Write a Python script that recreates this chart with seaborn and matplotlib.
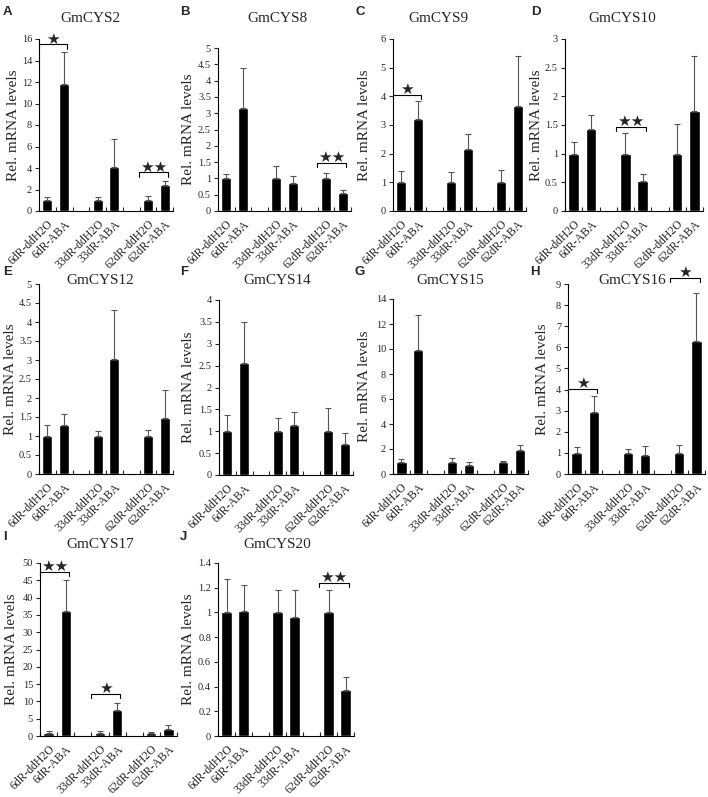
import matplotlib.pyplot as plt
import numpy as np
import pandas as pd
import seaborn as sns

sns.set_style('ticks')
plt.rcParams['font.family'] = ['Liberation Serif', 'DejaVu Sans']

# sample order, with two empty slots between the time points
samples = ['6dR-ddH2O', '6dR-ABA', 'gap1', '33dR-ddH2O', '33dR-ABA',
           'gap2', '62dR-ddH2O', '62dR-ABA']
labeled = ['6dR-ddH2O', '6dR-ABA', '33dR-ddH2O', '33dR-ABA',
           '62dR-ddH2O', '62dR-ABA']

genes = ['GmCYS2', 'GmCYS8', 'GmCYS9', 'GmCYS10', 'GmCYS12',
         'GmCYS14', 'GmCYS15', 'GmCYS16', 'GmCYS17', 'GmCYS20']
letters = ['A', 'B', 'C', 'D', 'E', 'F', 'G', 'H', 'I', 'J']

# mean expression per gene (order = labeled)
means = [
    [1.0, 11.8, 1.0, 4.1, 1.0, 2.4],
    [1.0, 3.15, 1.0, 0.85, 1.0, 0.55],
    [1.0, 3.2, 1.0, 2.15, 1.0, 3.65],
    [1.0, 1.43, 1.0, 0.53, 1.0, 1.75],
    [1.0, 1.28, 1.0, 3.02, 1.0, 1.47],
    [1.0, 2.57, 1.0, 1.15, 1.0, 0.71],
    [1.0, 9.95, 1.0, 0.75, 1.0, 1.9],
    [1.0, 2.93, 1.0, 0.9, 1.0, 6.3],
    [1.0, 36.0, 1.0, 7.5, 1.0, 2.1],
    [1.0, 1.015, 1.0, 0.965, 1.0, 0.37],
]
# upper error (SD)
errors = [
    [0.3, 3.0, 0.3, 2.6, 0.4, 0.35],
    [0.13, 1.25, 0.38, 0.22, 0.18, 0.1],
    [0.4, 0.65, 0.35, 0.55, 0.42, 1.75],
    [0.2, 0.24, 0.36, 0.12, 0.52, 0.95],
    [0.28, 0.3, 0.13, 1.3, 0.15, 0.74],
    [0.38, 0.92, 0.3, 0.29, 0.54, 0.25],
    [0.22, 2.75, 0.3, 0.2, 0.08, 0.45],
    [0.28, 0.75, 0.18, 0.42, 0.36, 2.27],
    [0.4, 9.2, 0.4, 2.1, 0.2, 1.2],
    [0.27, 0.205, 0.185, 0.215, 0.185, 0.11],
]
ymax = [16, 5, 6, 3, 5, 4, 14, 9, 50, 1.4]
ystep = [2, 0.5, 1, 0.5, 0.5, 0.5, 2, 1, 5, 0.2]

# significance: (gene index, first sample of pair, bracket level, stars)
sig_gene = [0, 0, 1, 2, 3, 7, 7, 8, 8, 9]
sig_pair = ['6dR-ddH2O', '62dR-ddH2O', '62dR-ddH2O', '6dR-ddH2O', '33dR-ddH2O',
            '6dR-ddH2O', '62dR-ddH2O', '6dR-ddH2O', '33dR-ddH2O', '62dR-ddH2O']
sig_level = [15.5, 3.6, 1.47, 4.05, 1.47, 4.05, 9.3, 47.5, 12.2, 1.24]
sig_stars = [1, 2, 2, 1, 2, 1, 1, 2, 1, 2]

# axes boxes in pixels: left, right, top, bottom
W, H = 708, 797
boxes = [
    (39, 173, 39, 211), (218, 351, 48, 211), (393, 526, 39, 211), (565, 703, 39, 211),
    (39, 173, 284, 474), (219, 353, 300, 475), (393, 528, 299, 474), (568, 705, 284, 474),
    (40, 177, 563, 736), (218, 354, 563, 736),
]
ylabel_x = [14, 189, 365, 537, 11, 189, 365, 543, 12, 188]
title_xy = [(90, 19), (277, 19), (438, 19), (622, 19),
            (100, 280), (277, 280), (450, 280), (632, 280),
            (100, 545), (277, 545)]
letter_xy = [(3, 12), (180, 12), (356, 12), (531, 12),
             (3, 272), (180, 272), (355, 272), (530, 272),
             (3, 537), (180, 537)]

fig = plt.figure(figsize=(W / 100, H / 100), dpi=100)

for i, gene in enumerate(genes):
    l, r, t, b = boxes[i]
    ax = fig.add_axes([l / W, 1 - b / H, (r - l) / W, (b - t) / H])
    df = pd.DataFrame({'sample': labeled, 'level': means[i]})
    sns.barplot(data=df, x='sample', y='level', order=samples, color='black',
                width=0.6, errorbar=None, ax=ax, saturation=1)
    pos = [samples.index(s) for s in labeled]
    ax.errorbar(pos, means[i], yerr=[np.zeros(6), errors[i]], fmt='none',
                ecolor='#555555', elinewidth=0.8, capsize=2.5, capthick=0.8)

    ticks = np.arange(0, ymax[i] + ystep[i] / 2, ystep[i])
    ax.set_xlim(-0.5, 7.5)
    ax.set_ylim(0, ymax[i])
    ax.set_yticks(ticks)
    ax.set_yticklabels([f'{v:g}' for v in ticks])
    ax.set_xticks(pos)
    ax.set_xticklabels(labeled, rotation=45, ha='right', rotation_mode='anchor')
    ax.set_xticks(np.arange(-0.5, 8, 1), minor=True)
    ax.tick_params(axis='x', which='major', length=0, pad=5, labelsize=8.5)
    ax.tick_params(axis='x', which='minor', direction='in', length=3, width=0.8)
    ax.tick_params(axis='y', direction='out', length=3, width=0.8, labelsize=7.5, pad=2)
    ax.set_xlabel('')
    ax.set_ylabel('Rel. mRNA levels', fontsize=11, va='center')
    ax.yaxis.set_label_coords((ylabel_x[i] - l) / (r - l), 0.5)
    for s in ['top', 'right']:
        ax.spines[s].set_visible(False)
    for s in ['left', 'bottom']:
        ax.spines[s].set_linewidth(0.8)
        ax.spines[s].set_color('black')

    fig.text(title_xy[i][0] / W, 1 - title_xy[i][1] / H, gene, fontsize=11,
             ha='center', va='center')
    fig.text(letter_xy[i][0] / W, 1 - letter_xy[i][1] / H, letters[i], fontsize=9.5,
             fontweight='bold', family='Liberation Sans', ha='left', va='center')

    # significance brackets
    for g, p, lev, n in zip(sig_gene, sig_pair, sig_level, sig_stars):
        if g != i:
            continue
        c = samples.index(p)
        x0, x1 = max(c - 0.55, -0.5), c + 1.2
        leg = ymax[i] * 0.025
        ax.plot([x0, x0, x1, x1], [lev - leg, lev, lev, lev - leg], color='black',
                lw=0.8, clip_on=False)
        ax.annotate('★' * n, ((x0 + x1) / 2, lev), xytext=(0, 0.5),
                    textcoords='offset points', family='DejaVu Sans', fontsize=11,
                    ha='center', va='baseline', annotation_clip=False)

fig.savefig('out.png', dpi=100)
